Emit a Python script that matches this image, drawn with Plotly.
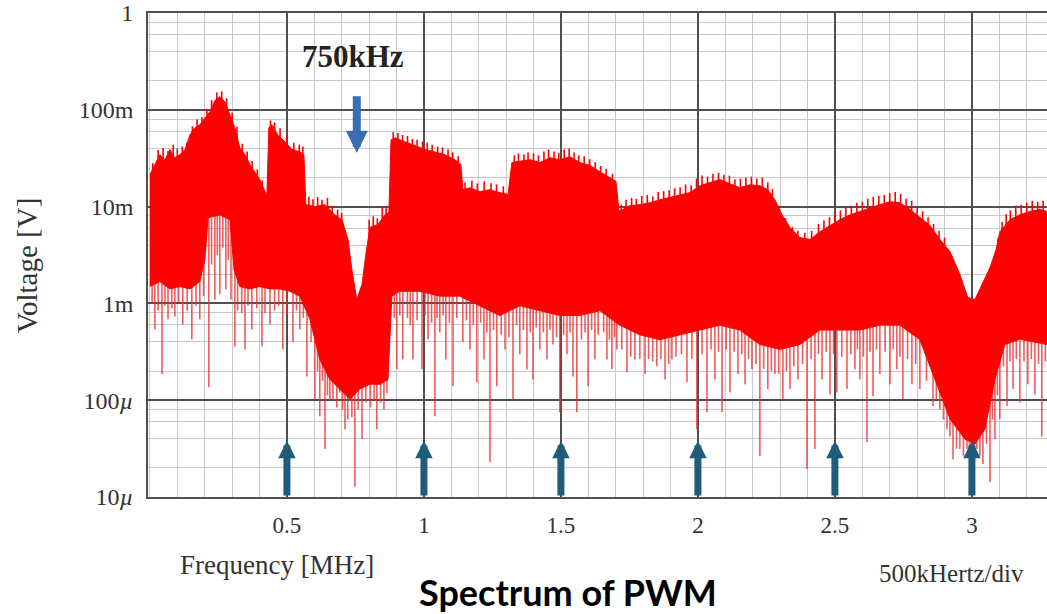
import numpy as np
import plotly.graph_objects as go

# Upper edge of the PWM spectrum: frequency [MHz], level [dBV]
upper_freq = [0.000, 0.018, 0.036, 0.055, 0.073, 0.091, 0.109, 0.128, 0.146, 0.164,
              0.182, 0.201, 0.219, 0.237, 0.255, 0.274, 0.292, 0.310, 0.328, 0.347,
              0.365, 0.383, 0.401, 0.420, 0.427, 0.434, 0.445, 0.467, 0.493, 0.518,
              0.547, 0.562, 0.569, 0.602, 0.639, 0.675, 0.701, 0.723, 0.737, 0.755,
              0.774, 0.788, 0.803, 0.832, 0.858, 0.872, 0.880, 0.894, 0.931, 0.967,
              1.004, 1.040, 1.077, 1.113, 1.135, 1.142, 1.168, 1.204, 1.241, 1.277,
              1.307, 1.321, 1.350, 1.387, 1.423, 1.460, 1.496, 1.533, 1.569, 1.606,
              1.642, 1.679, 1.701, 1.712, 1.752, 1.788, 1.825, 1.861, 1.898, 1.934,
              1.971, 2.007, 2.044, 2.080, 2.117, 2.153, 2.190, 2.226, 2.255, 2.281,
              2.307, 2.336, 2.372, 2.409, 2.445, 2.482, 2.518, 2.555, 2.591, 2.628,
              2.664, 2.701, 2.737, 2.774, 2.810, 2.847, 2.883, 2.920, 2.956, 2.985,
              3.011, 3.036, 3.066, 3.088, 3.102, 3.139, 3.175, 3.212, 3.248, 3.274]
upper_dbv = [-33.4, -31.3, -29.3, -30.3, -28.2, -29.9, -29.3, -28.2, -25.2, -23.7,
             -23.1, -21.7, -20.4, -18.1, -17.3, -18.4, -21.0, -23.7, -27.8, -29.3,
             -31.3, -32.8, -34.4, -36.9, -37.5, -23.7, -23.1, -25.2, -26.6, -28.2,
             -28.7, -29.3, -39.6, -40.0, -39.6, -41.7, -42.7, -46.8, -53.0, -59.2,
             -56.1, -49.9, -44.3, -43.7, -41.7, -41.2, -26.2, -25.8, -26.6, -27.4,
             -28.2, -28.7, -29.3, -30.3, -31.3, -36.5, -36.1, -36.9, -36.5, -37.1,
             -37.5, -30.9, -30.7, -30.3, -30.9, -29.9, -30.3, -29.7, -30.9, -31.5,
             -32.8, -34.0, -34.8, -41.0, -39.8, -39.6, -39.2, -38.6, -38.1, -37.7,
             -37.1, -35.7, -35.1, -34.4, -35.3, -36.1, -35.5, -35.7, -36.5, -38.6,
             -41.7, -44.3, -46.4, -46.8, -45.2, -43.9, -42.7, -41.7, -41.0, -40.2,
             -39.6, -39.0, -39.2, -40.6, -42.3, -43.9, -46.8, -49.3, -54.0, -58.8,
             -59.2, -56.1, -52.6, -48.9, -45.2, -42.7, -41.7, -41.0, -40.6, -41.0]

# Lower edge of the dense part of the spectrum
lower_freq = [0.000, 0.036, 0.073, 0.109, 0.146, 0.182, 0.201, 0.212, 0.255, 0.292,
              0.307, 0.328, 0.365, 0.401, 0.438, 0.474, 0.511, 0.547, 0.584, 0.620,
              0.657, 0.693, 0.730, 0.766, 0.803, 0.839, 0.869, 0.883, 0.912, 0.985,
              1.058, 1.131, 1.204, 1.277, 1.350, 1.423, 1.496, 1.569, 1.642, 1.715,
              1.788, 1.861, 1.934, 2.007, 2.080, 2.153, 2.226, 2.299, 2.372, 2.445,
              2.518, 2.591, 2.664, 2.737, 2.810, 2.865, 2.920, 2.974, 3.011, 3.047,
              3.084, 3.120, 3.175, 3.274]
lower_dbv = [-56.5, -55.5, -57.0, -56.5, -57.0, -55.5, -50.9, -42.3, -41.7, -42.7,
             -53.0, -56.5, -57.0, -56.5, -57.0, -57.0, -57.5, -58.5, -63.3, -71.6,
             -75.7, -77.7, -79.8, -77.7, -76.7, -76.7, -75.7, -58.5, -57.5, -57.5,
             -58.5, -58.5, -60.5, -62.5, -60.5, -61.5, -62.5, -62.5, -61.5, -64.5,
             -66.5, -67.5, -66.5, -65.5, -64.5, -65.5, -68.5, -69.5, -68.5, -65.5,
             -65.5, -65.5, -64.5, -64.5, -67.5, -75.7, -83.9, -88.0, -89.1, -86.0,
             -75.7, -68.5, -67.4, -68.5]

# Fine peaks rising above the upper edge
peak_freq = [0.010, 0.030, 0.048, 0.066, 0.085, 0.100, 0.118, 0.135, 0.155, 0.172,
             0.190, 0.208, 0.225, 0.244, 0.262, 0.280, 0.300, 0.318, 0.337, 0.355,
             0.373, 0.392, 0.410, 0.440, 0.455, 0.475, 0.500, 0.525, 0.545, 0.558,
             0.580, 0.595, 0.612, 0.628, 0.648, 0.665, 0.685, 0.700, 0.800, 0.815,
             0.830, 0.848, 0.862, 0.888, 0.905, 0.922, 0.940, 0.958, 0.975, 0.995,
             1.012, 1.030, 1.050, 1.068, 1.088, 1.105, 1.125, 1.150, 1.175, 1.195,
             1.220, 1.245, 1.265, 1.290, 1.330, 1.345, 1.365, 1.380, 1.400, 1.418,
             1.438, 1.455, 1.475, 1.492, 1.512, 1.530, 1.548, 1.565, 1.585, 1.605,
             1.625, 1.645, 1.665, 1.688, 1.720, 1.738, 1.758, 1.775, 1.795, 1.815,
             1.835, 1.855, 1.875, 1.895, 1.915, 1.935, 1.955, 1.975, 1.995, 2.015,
             2.035, 2.055, 2.075, 2.095, 2.115, 2.135, 2.155, 2.175, 2.195, 2.215,
             2.235, 2.255, 2.272, 2.295, 2.320, 2.345, 2.365, 2.390, 2.415, 2.440,
             2.460, 2.480, 2.500, 2.520, 2.540, 2.560, 2.580, 2.600, 2.620, 2.640,
             2.660, 2.680, 2.700, 2.720, 2.740, 2.760, 2.780, 2.800, 2.820, 2.840,
             2.860, 2.880, 2.900, 3.095, 3.110, 3.125, 3.140, 3.160, 3.180, 3.200,
             3.220, 3.240, 3.260]
peak_dbv = [-31.0, -28.3, -27.9, -28.5, -27.2, -28.0, -27.6, -26.8, -23.4, -22.0,
            -21.5, -19.8, -18.0, -16.4, -16.2, -17.6, -20.6, -23.5, -27.0, -28.6,
            -30.6, -32.3, -34.6, -22.2, -22.6, -23.8, -25.4, -26.8, -27.2, -27.6,
            -37.9, -38.5, -38.0, -38.6, -38.2, -39.8, -40.6, -41.3, -42.7, -42.0,
            -42.4, -40.2, -39.9, -24.6, -24.8, -25.2, -25.4, -26.0, -26.2, -26.6,
            -26.8, -27.2, -27.6, -27.8, -28.2, -28.8, -29.6, -35.0, -34.6, -35.2,
            -34.8, -35.2, -35.4, -35.8, -29.4, -29.0, -29.2, -28.8, -29.0, -29.4,
            -28.6, -28.2, -28.6, -28.9, -28.2, -28.0, -28.8, -29.4, -29.6, -30.2,
            -30.8, -31.6, -32.2, -33.2, -39.6, -38.6, -38.2, -38.4, -37.8, -37.6,
            -37.9, -37.0, -36.8, -36.6, -36.2, -36.0, -35.4, -35.6, -34.2, -33.6,
            -33.8, -33.2, -33.0, -33.4, -33.6, -34.4, -34.2, -34.0, -33.8, -34.2,
            -34.0, -35.0, -36.4, -39.8, -42.4, -44.2, -45.0, -45.4, -45.0, -43.6,
            -42.8, -42.2, -41.4, -40.8, -40.2, -39.8, -39.2, -39.0, -38.4, -38.0,
            -37.8, -37.6, -37.2, -37.0, -37.4, -38.4, -38.8, -40.2, -41.0, -42.2,
            -43.6, -45.0, -46.4, -46.6, -43.2, -41.6, -40.8, -39.8, -39.6, -39.2,
            -38.8, -39.0, -38.8]

# Deep notches reaching well below the dense part
dip_freq = [0.018, 0.044, 0.066, 0.091, 0.120, 0.153, 0.182, 0.215, 0.237, 0.255,
            0.277, 0.296, 0.310, 0.347, 0.372, 0.409, 0.438, 0.485, 0.522, 0.547,
            0.573, 0.602, 0.620, 0.639, 0.657, 0.693, 0.712, 0.748, 0.774, 0.828,
            0.854, 0.901, 0.923, 0.960, 0.993, 1.015, 1.040, 1.058, 1.080, 1.106,
            1.142, 1.168, 1.193, 1.219, 1.241, 1.266, 1.296, 1.325, 1.350, 1.376,
            1.398, 1.423, 1.449, 1.471, 1.496, 1.522, 1.544, 1.558, 1.599, 1.624,
            1.668, 1.686, 1.704, 1.741, 1.770, 1.807, 1.850, 1.880, 1.905, 1.960,
            1.996, 2.033, 2.062, 2.088, 2.117, 2.146, 2.172, 2.197, 2.226, 2.255,
            2.281, 2.310, 2.336, 2.365, 2.398, 2.427, 2.453, 2.482, 2.507, 2.544,
            2.573, 2.591, 2.617, 2.639, 2.664, 2.701, 2.726, 2.748, 2.781, 2.810,
            2.858, 2.883, 2.909, 2.931, 2.956, 2.982, 3.000, 3.018, 3.040, 3.066,
            3.084, 3.102, 3.128, 3.150, 3.175, 3.204, 3.230, 3.255]
dip_dbv = [-65.4, -74.6, -63.3, -62.7, -64.3, -67.4, -63.3, -77.3, -59.2, -58.1,
           -57.1, -59.2, -68.9, -69.5, -65.4, -68.9, -64.3, -69.5, -68.0, -65.4,
           -75.1, -79.8, -83.3, -90.1, -79.8, -78.4, -86.0, -97.9, -88.0, -86.0,
           -81.9, -73.6, -71.6, -71.6, -73.6, -67.4, -83.3, -66.0, -71.6, -77.1,
           -68.0, -69.5, -76.3, -71.6, -92.8, -77.1, -69.5, -79.8, -70.5, -73.6,
           -75.7, -69.5, -71.6, -68.5, -82.5, -70.5, -75.1, -82.5, -77.1, -71.6,
           -71.6, -73.6, -69.5, -74.2, -71.6, -74.6, -73.0, -75.7, -71.6, -76.3,
           -86.0, -82.5, -75.7, -82.5, -78.4, -74.6, -76.7, -73.6, -91.6, -77.7,
           -74.6, -79.8, -77.7, -75.7, -94.2, -90.1, -75.7, -78.8, -78.4, -77.7,
           -73.6, -75.7, -88.7, -79.2, -74.6, -76.7, -73.6, -79.8, -76.7, -77.7,
           -81.2, -81.9, -86.0, -92.2, -90.1, -90.1, -94.2, -90.1, -93.2, -96.9,
           -88.0, -83.9, -81.2, -77.7, -80.4, -76.7, -78.8, -87.5]

# Short notches just below the dense part
ripple_freq = [0.008, 0.030, 0.055, 0.080, 0.105, 0.136, 0.168, 0.196, 0.225, 0.246,
               0.266, 0.286, 0.320, 0.335, 0.358, 0.390, 0.420, 0.455, 0.470, 0.500,
               0.535, 0.560, 0.588, 0.612, 0.630, 0.648, 0.668, 0.682, 0.703, 0.722,
               0.737, 0.760, 0.788, 0.805, 0.818, 0.842, 0.865, 0.892, 0.912, 0.940,
               0.950, 0.975, 1.004, 1.028, 1.048, 1.070, 1.093, 1.120, 1.155, 1.180,
               1.207, 1.230, 1.254, 1.282, 1.310, 1.338, 1.363, 1.388, 1.410, 1.436,
               1.460, 1.484, 1.510, 1.533, 1.575, 1.588, 1.612, 1.636, 1.656, 1.677,
               1.695, 1.722, 1.755, 1.788, 1.820, 1.835, 1.865, 1.893, 1.920, 1.940,
               1.978, 2.015, 2.048, 2.075, 2.103, 2.132, 2.160, 2.185, 2.212, 2.240,
               2.268, 2.295, 2.323, 2.350, 2.382, 2.413, 2.440, 2.468, 2.495, 2.525,
               2.558, 2.582, 2.604, 2.628, 2.652, 2.683, 2.713, 2.737, 2.765, 2.795,
               2.834, 2.870, 2.896, 2.920, 2.944, 2.969, 2.991, 3.009, 3.029, 3.053,
               3.075, 3.093, 3.115, 3.139, 3.162, 3.190, 3.217, 3.243, 3.268]
ripple_dbv = [-60.0, -61.5, -60.5, -61.0, -60.0, -61.5, -60.5, -58.5, -52.0, -50.0,
              -48.5, -51.0, -61.5, -62.0, -60.5, -61.0, -62.0, -61.5, -60.5, -62.5,
              -61.5, -63.0, -68.0, -74.0, -76.0, -79.0, -80.0, -81.5, -82.0, -84.0,
              -83.5, -82.0, -80.5, -81.5, -80.0, -80.5, -78.5, -63.0, -62.5, -63.0,
              -64.5, -63.5, -62.5, -64.0, -63.0, -62.5, -64.0, -63.0, -63.5, -64.5,
              -64.0, -66.0, -65.5, -66.5, -67.0, -64.5, -65.5, -66.0, -65.0, -66.0,
              -65.5, -67.0, -66.5, -66.0, -67.5, -66.0, -65.5, -66.5, -66.0, -67.5,
              -67.0, -69.5, -71.0, -71.5, -71.5, -72.0, -71.5, -72.5, -71.0, -70.5,
              -71.5, -70.5, -69.5, -70.0, -69.5, -70.0, -70.5, -71.5, -72.5, -73.5,
              -74.0, -74.5, -74.0, -73.0, -72.5, -71.5, -70.5, -70.0, -70.5, -71.0,
              -70.5, -69.5, -71.0, -70.0, -69.5, -70.0, -69.5, -71.0, -71.5, -72.5,
              -76.0, -80.0, -84.0, -87.5, -90.0, -91.5, -92.0, -92.5, -91.5, -89.0,
              -84.0, -79.0, -73.0, -72.0, -71.5, -72.0, -71.5, -72.5, -72.0]

# Switching frequency and its harmonic markers (MHz)
carrier_freq = 0.755
harmonic_freq = [0.5, 1.0, 1.5, 2.0, 2.5, 3.0]

x_tick_vals = [0.5, 1.0, 1.5, 2.0, 2.5, 3.0]
x_tick_text = ["0.5", "1", "1.5", "2", "2.5", "3"]
y_tick_vals = [1e-5, 1e-4, 1e-3, 1e-2, 1e-1, 1.0]
y_tick_text = ["10<i>µ</i>", "100<i>µ</i>", "1m", "10m", "100m", "1"]


def volts(dbv):
    return 10 ** (np.asarray(dbv, dtype=float) / 20.0)


def strokes(freqs, ends, edge_f, edge_d, overlap):
    """Vertical strokes from an edge of the band to each end level."""
    xs, ys = [], []
    for f, d in zip(freqs, ends):
        base = float(np.interp(f, edge_f, edge_d)) + overlap
        xs += [f, f, None]
        ys += [float(volts(base)), float(volts(d)), None]
    return xs, ys


RED = "#ff0000"
SERIF = "Liberation Serif"

fig = go.Figure()

# Notches hanging below the dense band
nx, ny = strokes(dip_freq + ripple_freq, dip_dbv + ripple_dbv,
                 lower_freq, lower_dbv, 4.0)
fig.add_trace(go.Scatter(x=nx, y=ny, mode="lines",
                         line=dict(color="rgba(236,45,45,0.78)", width=1.6),
                         hoverinfo="skip", showlegend=False))

# Dense band between the upper and lower edges
band_x = list(upper_freq) + list(lower_freq[::-1])
band_y = list(volts(upper_dbv)) + list(volts(lower_dbv[::-1]))
fig.add_trace(go.Scatter(x=band_x, y=band_y, mode="lines", fill="toself",
                         fillcolor=RED, line=dict(color=RED, width=1),
                         hoverinfo="skip", showlegend=False))

# Fine peaks on top of the band
px_, py_ = strokes(peak_freq, peak_dbv, upper_freq, upper_dbv, -1.5)
fig.add_trace(go.Scatter(x=px_, y=py_, mode="lines",
                         line=dict(color=RED, width=1.6),
                         hoverinfo="skip", showlegend=False))

minor_y = [m * 10.0 ** k for k in range(-5, 0) for m in (2, 4, 6, 8)]

fig.update_xaxes(
    range=[-0.007, 3.274], tickmode="array", tickvals=x_tick_vals,
    ticktext=x_tick_text, showgrid=True, gridcolor="#4f4f4f", gridwidth=1.7,
    minor=dict(dtick=0.1, tick0=0, showgrid=True, gridcolor="#c9c9c9", gridwidth=1),
    showline=True, linecolor="#4f4f4f", linewidth=1.7, mirror=True,
    ticks="", ticklabelstandoff=7, zeroline=False,
    tickfont=dict(family=SERIF, size=23, color="#333"),
)
fig.update_yaxes(
    type="log", range=[-5, 0], tickmode="array", tickvals=y_tick_vals,
    ticktext=y_tick_text, showgrid=True, gridcolor="#4f4f4f", gridwidth=1.7,
    minor=dict(tickmode="array", tickvals=minor_y, showgrid=True,
               gridcolor="#c9c9c9", gridwidth=1),
    showline=True, linecolor="#4f4f4f", linewidth=1.7,
    ticks="", ticklabelstandoff=8, zeroline=False,
    tickfont=dict(family=SERIF, size=24, color="#333"),
)

# White label box for the carrier frequency
fig.add_shape(type="rect", xref="x", yref="paper", x0=0.511, x1=0.989,
              y0=0.822, y1=0.994, fillcolor="white", line=dict(width=0),
              layer="between")

annotations = [
    dict(x=0.741, y=0.911, xref="x", yref="paper", text="<b>750kHz</b>",
         xanchor="center", yanchor="middle", showarrow=False,
         font=dict(family=SERIF, size=31, color="#222")),
    dict(x=carrier_freq, y=np.log10(0.036), xref="x", yref="y",
         ax=carrier_freq, ay=np.log10(0.143), axref="x", ayref="y",
         text="", showarrow=True, arrowhead=2, arrowsize=0.55, arrowwidth=8,
         arrowcolor="#3b6db3"),
    dict(x=-0.135, y=0.478, xref="paper", yref="paper", text="Voltage [V]",
         xanchor="center", yanchor="middle", textangle=-90, showarrow=False,
         font=dict(family=SERIF, size=29, color="#333")),
    dict(x=0.1437, y=-0.14, xref="paper", yref="paper", text="Frequency [MHz]",
         xanchor="center", yanchor="middle", showarrow=False,
         font=dict(family=SERIF, size=27, color="#333")),
    dict(x=0.894, y=-0.158, xref="paper", yref="paper", text="500kHertz/div",
         xanchor="center", yanchor="middle", showarrow=False,
         font=dict(family=SERIF, size=25, color="#333")),
    dict(x=0.467, y=-0.196, xref="paper", yref="paper", text="<b>Spectrum of PWM</b>",
         xanchor="center", yanchor="middle", showarrow=False,
         font=dict(family="Lato", size=36, color="#000")),
]
for f in harmonic_freq:
    annotations.append(dict(x=f, y=-4.42, xref="x", yref="y",
                            ax=f, ay=-5.0, axref="x", ayref="y", text="",
                            showarrow=True, arrowhead=2, arrowsize=0.5,
                            arrowwidth=7, arrowcolor="#1f5c79"))

fig.update_layout(
    width=1047, height=614, autosize=False,
    margin=dict(l=148, r=0, t=13, b=117),
    paper_bgcolor="white", plot_bgcolor="white",
    annotations=annotations, showlegend=False,
)

fig.write_html("out.html")
